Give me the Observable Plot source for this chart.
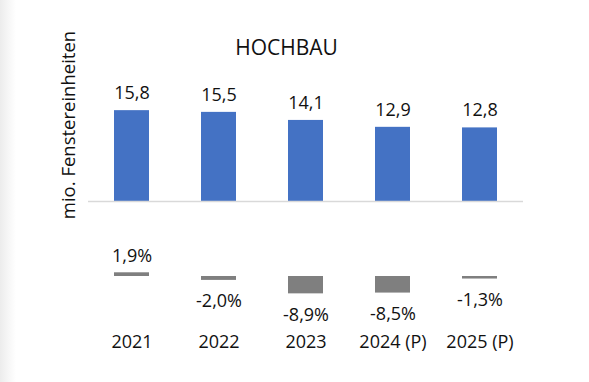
<!DOCTYPE html>
<html><head><meta charset="utf-8">
<script src="https://cdn.jsdelivr.net/npm/d3@7"></script>
<script src="https://cdn.jsdelivr.net/npm/@observablehq/plot@0.6"></script>
<style>
body{margin:0;background:#fff;}
#wrap{position:relative;width:589px;height:382px;background:linear-gradient(to right,#ececec 0px,#f6f6f6 8px,#fff 16px);font-family:"Open Sans",sans-serif;overflow:hidden;color:#111}
#wrap svg{position:absolute;left:0;top:0}
.lbl{position:absolute;white-space:nowrap;line-height:1;}
</style></head><body><div id="wrap"></div>
<script>
const years = ["2021","2022","2023","2024 (P)","2025 (P)"];
const volumes = [15.8,15.5,14.1,12.9,12.8];
const changes = [1.9,-2.0,-8.9,-8.5,-1.3];
const titleText = "HOCHBAU";
const yLabelText = "mio. Fenstereinheiten";

const fmt = v => v.toFixed(1).replace(".", ",");
const topData = years.map((year,i)=>({year, value: volumes[i]}));
const botData = years.map((year,i)=>({year, value: changes[i]}));

const common = {
  width: 589, height: 382,
  marginLeft: 88, marginRight: 66, marginTop: 0, marginBottom: 40,
  style: {background: "transparent", fontFamily: "Open Sans", fontSize: "18px", color: "#111"}
};
const xOpt = {domain: years, paddingInner: 0.6, paddingOuter: 0.3, axis: null};

const topPlot = Plot.plot({
  ...common,
  x: xOpt,
  y: {domain: [0, 20], range: [201, 86], axis: null},
  marks: [
    Plot.barY(topData, {x: "year", y: "value", fill: "#4472c4"}),
    Plot.ruleY([0], {stroke: "#d9d9d9", strokeWidth: 1.5}),
    Plot.text(topData, {x: "year", y: "value", text: d => fmt(d.value), dy: -17.5, fontSize: 18, fill: "#111"})
  ]
});

const botPlot = Plot.plot({
  ...common,
  x: xOpt,
  y: {domain: [-10, 2], range: [295.5, 272.1], axis: null},
  marks: [
    Plot.barY(botData, {x: "year", y: "value", fill: "#7f7f7f"}),
    Plot.text(botData.filter(d => d.value >= 0), {x: "year", y: "value", text: d => fmt(d.value) + "%", dy: -17, fontSize: 18, fill: "#111"}),
    Plot.text(botData.filter(d => d.value < 0), {x: "year", y: "value", text: d => fmt(d.value) + "%", dy: 21, fontSize: 18, fill: "#111"}),
    Plot.text(years, {x: d => d, text: d => d, frameAnchor: "bottom", lineAnchor: "middle", fontSize: 18, fill: "#111"})
  ]
});

const wrap = document.getElementById("wrap");
wrap.appendChild(topPlot);
wrap.appendChild(botPlot);

const t = document.createElement("div");
t.className = "lbl";
t.textContent = titleText;
t.style.cssText = "left:286.5px;top:47px;transform:translate(-50%,-50%);font-size:21px;";
wrap.appendChild(t);

const yl = document.createElement("div");
yl.className = "lbl";
yl.textContent = yLabelText;
yl.style.cssText = "left:68px;top:125px;transform:translate(-50%,-50%) rotate(-90deg);font-size:18.5px;";
wrap.appendChild(yl);
</script></body></html>
